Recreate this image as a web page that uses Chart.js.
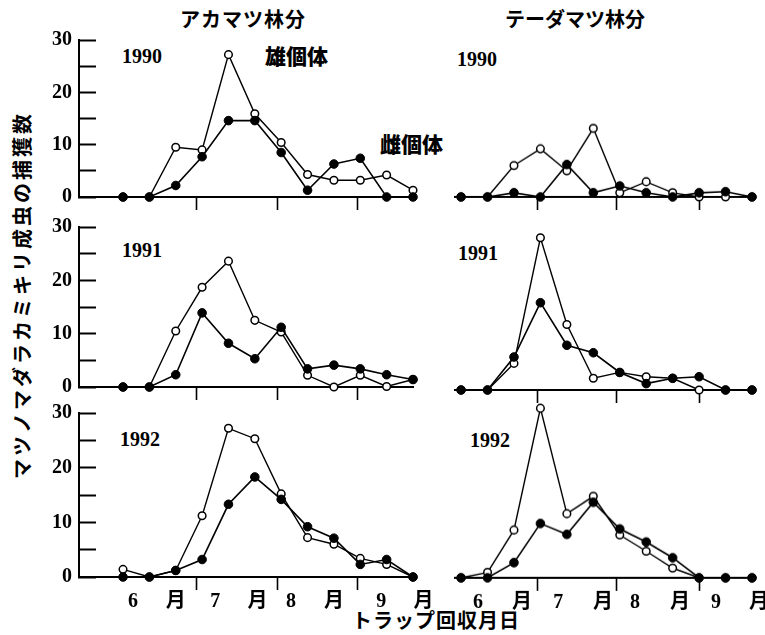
<!DOCTYPE html>
<html><head><meta charset="utf-8">
<script src="https://cdn.jsdelivr.net/npm/chart.js@4.4.1/dist/chart.umd.min.js"></script>
<style>
html,body{margin:0;padding:0;background:#fff;}
#wrap{position:relative;width:765px;height:635px;overflow:hidden;background:#fff;}
canvas{position:absolute;}
.t{position:absolute;color:#000;white-space:nowrap;line-height:1;}
.jp{font-family:"Noto Sans CJK JP","Noto Sans",sans-serif;font-weight:700;}
.yr{font-family:"Liberation Serif","DejaVu Serif",serif;font-weight:700;font-size:20px;}
</style></head>
<body><div id="wrap">
<div class="t jp" style="left:180px;top:9px;font-size:20px;letter-spacing:1px;">アカマツ林分</div>
<div class="t jp" style="left:505px;top:9px;font-size:20px;letter-spacing:0px;">テーダマツ林分</div>
<div class="t jp" style="left:265px;top:45px;font-size:21px;font-weight:900;">雄個体</div>
<div class="t jp" style="left:380px;top:133px;font-size:21px;font-weight:900;">雌個体</div>
<div class="t yr" style="left:122px;top:46px;">1990</div>
<div class="t yr" style="left:457px;top:49px;">1990</div>
<div class="t yr" style="left:122px;top:240px;">1991</div>
<div class="t yr" style="left:458px;top:243px;">1991</div>
<div class="t yr" style="left:120px;top:429px;">1992</div>
<div class="t yr" style="left:470px;top:430px;">1992</div>
<div class="t jp" style="left:22px;top:295px;font-size:20px;letter-spacing:3px;transform:translate(-50%,-50%) rotate(-90deg);">マツノマダラカミキリ成虫の捕獲数</div>
<div class="t jp" style="left:352px;top:610px;font-size:20px;letter-spacing:1px;">トラップ回収月日</div>
</div>
<script>
// ---- data ----
const points = [0,1,2,3,4,5,6,7,8,9,10,11];
const yTicks = [0,5,10,15,20,25,30];
const yTickLabels = ['0','','10','','20','','30'];
const monthLabels = ['6','月','7','月','8','月','9','月'];
const leftLabelPos = [0.38,2.0,3.5,5.1,6.37,8.0,9.8,11.4];
const rightLabelPos = [0.64,2.3,3.67,5.37,6.58,8.28,9.64,11.26];
const leftSeps = [2.8,5.85,8.9];
const rightSeps = [2.88,5.88,9.0];

const akamatsu1990Male   = [0,0,9.5,9.0,27.2,15.9,10.4,4.3,3.2,3.2,4.2,1.3];
const akamatsu1990Female = [0,0,2.2,7.7,14.6,14.6,8.5,1.3,6.3,7.4,0,0];
const akamatsu1991Male   = [0,0,10.5,18.7,23.6,12.5,10.3,2.2,0,2.2,0.1,1.4];
const akamatsu1991Female = [0,0,2.3,13.9,8.2,5.3,11.2,3.4,4.1,3.4,2.3,1.4];
const akamatsu1992Male   = [1.4,0,1.2,11.2,27.2,25.3,15.2,7.2,6.0,3.4,2.3,0];
const akamatsu1992Female = [0,0,1.2,3.2,13.3,18.3,14.2,9.2,7.1,2.3,3.2,0];
const taeda1990Male   = [0,0,6.0,9.2,5.0,13.1,0.8,2.9,0.8,0,0,0];
const taeda1990Female = [0,0,0.8,0,6.2,0.8,2.1,0.8,0,0.8,1.0,0];
const taeda1991Male   = [0,0,5.0,28.6,12.3,2.2,3.3,2.5,2.2,0,0,0];
const taeda1991Female = [0,0,6.2,16.4,8.4,7.0,3.3,1.2,2.2,2.5,0,0];
const taeda1992Male   = [0,1.0,8.8,31.2,11.8,15.0,7.9,4.9,1.8,0,0,0];
const taeda1992Female = [0,0,2.8,10.0,8.0,13.9,9.0,6.6,3.7,0,0,0];

// ---- layout (pixel geometry of each panel's plot area; t = pixel of value 30, b = pixel of 0) ----
const LEFT = {l:79, r:413, min:-1.67, seps:leftSeps, lab:leftLabelPos, yAxis:true, ymax:30};
const RIGHT = {l:455, r:752, min:-0.23, seps:rightSeps, lab:rightLabelPos, yAxis:false, ymax:34};
const panels = [
  {col:LEFT,  t:40,  b:197, male:akamatsu1990Male, female:akamatsu1990Female, bottom:false},
  {col:RIGHT, t:40,  b:197, male:taeda1990Male, female:taeda1990Female, bottom:false},
  {col:LEFT,  t:227, b:387, male:akamatsu1991Male, female:akamatsu1991Female, bottom:false},
  {col:RIGHT, t:230, b:390, male:taeda1991Male, female:taeda1991Female, bottom:false},
  {col:LEFT,  t:413, b:577, male:akamatsu1992Male, female:akamatsu1992Female, bottom:true},
  {col:RIGHT, t:415, b:578, male:taeda1992Male, female:taeda1992Female, bottom:true},
];

Chart.defaults.font.family = '"Liberation Serif","Noto Sans CJK JP",serif';
Chart.defaults.color = '#000';

const wrap = document.getElementById('wrap');
panels.forEach(p => {
  const c = p.col;
  const padL = c.yAxis ? 0 : 10;
  const yW = c.yAxis ? 40 : 0;
  const padR = 30, padB = 4;
  const top = p.b - (p.b - p.t) * c.ymax / 30;   // pixel of ymax
  const padT = c.yAxis ? 25 : 12;
  const xH = p.bottom ? 40 : 16;
  const cv = document.createElement('canvas');
  const W = (c.r - c.l) + padL + yW + padR;
  const H = padT + (p.b - top) + xH + padB;
  cv.width = W; cv.height = H;
  cv.style.left = (c.l - padL - yW) + 'px';
  cv.style.top = (top - padT) + 'px';
  cv.style.width = W + 'px'; cv.style.height = H + 'px';
  wrap.appendChild(cv);

  const xt = c.seps.map(v => ({value:v, text:'', sep:true}))
    .concat(p.bottom ? c.lab.map((v,i) => ({value:v, text:monthLabels[i], sep:false})) : [])
    .sort((a,b) => a.value - b.value);

  const mk = (arr) => arr.map((v,i) => ({x:points[i], y:v}));
  new Chart(cv, {
    type:'line',
    data:{datasets:[
      {label:'雌個体', data:mk(p.female), borderColor:'#000', borderWidth:1.6,
       pointRadius:4.3, pointBackgroundColor:'#000', pointBorderColor:'#000', pointBorderWidth:1,
       tension:0, clip:false},
      {label:'雄個体', data:mk(p.male), borderColor:'#000', borderWidth:1.4,
       pointRadius:3.8, pointBackgroundColor:'#fff', pointBorderColor:'#000', pointBorderWidth:1.5,
       tension:0, clip:false},
    ]},
    options:{
      responsive:false, animation:false, devicePixelRatio:1,
      layout:{padding:{left:padL, right:padR, top:padT, bottom:padB}},
      plugins:{legend:{display:false}, tooltip:{enabled:false}},
      scales:{
        x:{type:'linear', min:c.min, max:11, offset:false,
           afterBuildTicks:(s) => { s.ticks = xt.map(o => ({value:o.value})); },
           afterFit:(s) => { s.height = xH; s.paddingLeft = 0; s.paddingRight = 0; },
           ticks:{display:p.bottom, autoSkip:false, maxRotation:0, padding:0,
                  callback:(v,i) => xt[i] ? xt[i].text : '',
                  font:{size:20, weight:'bold', family:'"Liberation Serif","Noto Sans CJK JP",serif'}},
           grid:{drawOnChartArea:false, drawTicks:true, tickLength:13, tickWidth:1.6,
                 tickColor:(ctx) => (xt[ctx.index] && xt[ctx.index].sep) ? '#000' : 'rgba(0,0,0,0)'},
           border:{display:true, color:'#000', width:2}},
        y:{type:'linear', min:0, max:c.ymax, display:c.yAxis,
           afterBuildTicks:(s) => { s.ticks = yTicks.map(v => ({value:v})); },
           afterFit:(s) => { s.width = yW; s.paddingTop = 0; s.paddingBottom = 0; },
           ticks:{autoSkip:false, padding:24, callback:(v,i) => yTickLabels[i],
                  font:{size:20, weight:'bold'}},
           grid:{drawOnChartArea:false, drawTicks:true, tickLength:-17, tickWidth:2, tickColor:'#000'},
           border:{display:true, color:'#000', width:2}}
      }
    }
  });
});
</script>
</body></html>
